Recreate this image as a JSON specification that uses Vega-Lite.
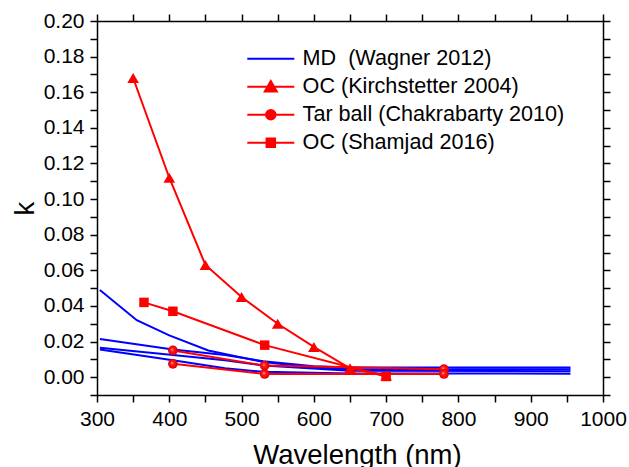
{
  "$schema": "https://vega.github.io/schema/vega-lite/v6.json",
  "width": 506,
  "height": 374,
  "autosize": {"type": "none"},
  "padding": {"left": 97, "top": 21, "right": 26, "bottom": 72},
  "background": "white",
  "config": {
    "view": {"stroke": null},
    "font": "Liberation Sans",
    "axis": {
      "grid": false, "domainColor": "#000", "domainWidth": 1.5, "tickColor": "#000", "tickWidth": 1.5,
      "labelColor": "#000", "labelFont": "Liberation Sans", "labelFontSize": 21,
      "titleFont": "Liberation Sans", "titleFontSize": 27.5, "titleFontWeight": "normal", "titleColor": "#000",
      "labelOverlap": false, "labelFlush": false, "labelBound": false, "tickSize": 7
    }
  },
  "data": {"values": [
    {"s": "MD\u00a0 (Wagner 2012)", "g": "md1", "w": 304, "k": 0.049},
    {"s": "MD\u00a0 (Wagner 2012)", "g": "md1", "w": 355, "k": 0.032},
    {"s": "MD\u00a0 (Wagner 2012)", "g": "md1", "w": 400, "k": 0.0235},
    {"s": "MD\u00a0 (Wagner 2012)", "g": "md1", "w": 454, "k": 0.015},
    {"s": "MD\u00a0 (Wagner 2012)", "g": "md1", "w": 530, "k": 0.0085},
    {"s": "MD\u00a0 (Wagner 2012)", "g": "md1", "w": 600, "k": 0.0055},
    {"s": "MD\u00a0 (Wagner 2012)", "g": "md1", "w": 650, "k": 0.0045},
    {"s": "MD\u00a0 (Wagner 2012)", "g": "md1", "w": 700, "k": 0.0042},
    {"s": "MD\u00a0 (Wagner 2012)", "g": "md1", "w": 800, "k": 0.0044},
    {"s": "MD\u00a0 (Wagner 2012)", "g": "md1", "w": 955, "k": 0.0045},
    {"s": "MD\u00a0 (Wagner 2012)", "g": "md2", "w": 304, "k": 0.0215},
    {"s": "MD\u00a0 (Wagner 2012)", "g": "md2", "w": 405, "k": 0.0155},
    {"s": "MD\u00a0 (Wagner 2012)", "g": "md2", "w": 477, "k": 0.0125},
    {"s": "MD\u00a0 (Wagner 2012)", "g": "md2", "w": 530, "k": 0.009},
    {"s": "MD\u00a0 (Wagner 2012)", "g": "md2", "w": 600, "k": 0.0062},
    {"s": "MD\u00a0 (Wagner 2012)", "g": "md2", "w": 650, "k": 0.0055},
    {"s": "MD\u00a0 (Wagner 2012)", "g": "md2", "w": 955, "k": 0.0054},
    {"s": "MD\u00a0 (Wagner 2012)", "g": "md3", "w": 304, "k": 0.0165},
    {"s": "MD\u00a0 (Wagner 2012)", "g": "md3", "w": 405, "k": 0.0125},
    {"s": "MD\u00a0 (Wagner 2012)", "g": "md3", "w": 477, "k": 0.0095},
    {"s": "MD\u00a0 (Wagner 2012)", "g": "md3", "w": 530, "k": 0.0065},
    {"s": "MD\u00a0 (Wagner 2012)", "g": "md3", "w": 650, "k": 0.0036},
    {"s": "MD\u00a0 (Wagner 2012)", "g": "md3", "w": 955, "k": 0.0034},
    {"s": "MD\u00a0 (Wagner 2012)", "g": "md4", "w": 304, "k": 0.0155},
    {"s": "MD\u00a0 (Wagner 2012)", "g": "md4", "w": 405, "k": 0.0095},
    {"s": "MD\u00a0 (Wagner 2012)", "g": "md4", "w": 477, "k": 0.005},
    {"s": "MD\u00a0 (Wagner 2012)", "g": "md4", "w": 530, "k": 0.003},
    {"s": "MD\u00a0 (Wagner 2012)", "g": "md4", "w": 650, "k": 0.0021},
    {"s": "MD\u00a0 (Wagner 2012)", "g": "md4", "w": 955, "k": 0.002},
    {"s": "OC (Kirchstetter 2004)", "g": "kir", "w": 350, "k": 0.168},
    {"s": "OC (Kirchstetter 2004)", "g": "kir", "w": 400, "k": 0.112},
    {"s": "OC (Kirchstetter 2004)", "g": "kir", "w": 450, "k": 0.063},
    {"s": "OC (Kirchstetter 2004)", "g": "kir", "w": 500, "k": 0.045},
    {"s": "OC (Kirchstetter 2004)", "g": "kir", "w": 550, "k": 0.030},
    {"s": "OC (Kirchstetter 2004)", "g": "kir", "w": 600, "k": 0.017},
    {"s": "OC (Kirchstetter 2004)", "g": "kir", "w": 650, "k": 0.005},
    {"s": "OC (Kirchstetter 2004)", "g": "kir", "w": 700, "k": 0.001},
    {"s": "Tar ball (Chakrabarty 2010)", "g": "tb1", "w": 405, "k": 0.015},
    {"s": "Tar ball (Chakrabarty 2010)", "g": "tb1", "w": 532, "k": 0.0065},
    {"s": "Tar ball (Chakrabarty 2010)", "g": "tb1", "w": 780, "k": 0.0045},
    {"s": "Tar ball (Chakrabarty 2010)", "g": "tb2", "w": 405, "k": 0.0075},
    {"s": "Tar ball (Chakrabarty 2010)", "g": "tb2", "w": 532, "k": 0.0018},
    {"s": "Tar ball (Chakrabarty 2010)", "g": "tb2", "w": 780, "k": 0.0018},
    {"s": "OC (Shamjad 2016)", "g": "sha", "w": 365, "k": 0.042},
    {"s": "OC (Shamjad 2016)", "g": "sha", "w": 405, "k": 0.037},
    {"s": "OC (Shamjad 2016)", "g": "sha", "w": 532, "k": 0.018},
    {"s": "OC (Shamjad 2016)", "g": "sha", "w": 700, "k": 0.0004}
  ]},
  "layer": [
    {
      "mark": {"type": "line", "strokeWidth": 2},
      "encoding": {
        "x": {"field": "w", "type": "quantitative", "scale": {"domain": [300, 1000], "nice": false, "zero": false},
          "axis": {"orient": "bottom", "title": "Wavelength (nm)", "titlePadding": 12, "labelPadding": 6, "titleX": 260,
            "values": [300, 350, 400, 450, 500, 550, 600, 650, 700, 750, 800, 850, 900, 950, 1000],
            "labelExpr": "datum.value % 100 === 0 ? '' + datum.value : ''",
            "encode": {"ticks": {"update": {"y2": {"signal": "datum.value % 100 === 0 ? 7 : 4"}}}}}},
        "y": {"field": "k", "type": "quantitative", "scale": {"domain": [-0.01, 0.2], "nice": false, "zero": false},
          "axis": {"orient": "left", "title": "k", "titlePadding": 4, "labelPadding": 6,
            "values": [-0.01, 0, 0.01, 0.02, 0.03, 0.04, 0.05, 0.06, 0.07, 0.08, 0.09, 0.1, 0.11, 0.12, 0.13, 0.14, 0.15, 0.16, 0.17, 0.18, 0.19, 0.2],
            "labelExpr": "round(datum.value * 100) % 2 === 0 ? format(datum.value, '.2f') : ''",
            "encode": {"ticks": {"update": {"x2": {"signal": "round(datum.value * 100) % 2 === 0 ? -7 : -4"}}}}}},
        "color": {"field": "s", "type": "nominal",
          "scale": {"domain": ["MD\u00a0 (Wagner 2012)", "OC (Kirchstetter 2004)", "Tar ball (Chakrabarty 2010)", "OC (Shamjad 2016)"],
                    "range": ["#0000ff", "#ff0000", "#ff0000", "#ff0000"]},
          "legend": {"orient": "none", "legendX": 163, "legendY": 27, "title": null, "padding": 0,
            "symbolSize": 100, "symbolStrokeWidth": 2, "labelFontSize": 21.6, "labelFont": "Liberation Sans", "labelColor": "#000",
            "labelOffset": 21, "rowPadding": 5, "labelLimit": 400,
            "encode": {"symbols": {"update": {
              "shape": {"signal": "datum.value === 'OC (Kirchstetter 2004)' ? 'M-4.7,0H4.7M0,-1.15L1.2,0.95L-1.2,0.95Z' : datum.value === 'Tar ball (Chakrabarty 2010)' ? 'M-4.7,0H4.7M0.95,0A0.95,0.95,0,1,1,-0.95,0A0.95,0.95,0,1,1,0.95,0Z' : datum.value === 'OC (Shamjad 2016)' ? 'M-4.7,0H4.7M-0.85,-0.85H0.85V0.85H-0.85Z' : 'M-4.7,0H4.7'"},
              "fill": {"signal": "datum.value === 'OC (Kirchstetter 2004)' || datum.value === 'Tar ball (Chakrabarty 2010)' || datum.value === 'OC (Shamjad 2016)' ? '#ff0000' : 'transparent'"},
              "stroke": {"signal": "datum.value === 'OC (Kirchstetter 2004)' || datum.value === 'Tar ball (Chakrabarty 2010)' || datum.value === 'OC (Shamjad 2016)' ? '#ff0000' : '#0000ff'"},
              "strokeWidth": {"value": 2},
              "opacity": {"value": 1}
            }}}}},
        "detail": {"field": "g"}
      }
    },
    {
      "transform": [{"filter": {"field": "g", "oneOf": ["kir", "sha"]}}],
      "mark": {"type": "point", "filled": true, "opacity": 1, "color": "#ff0000"},
      "encoding": {
        "x": {"field": "w", "type": "quantitative",
          "axis": {"orient": "top", "title": null, "labels": false,
            "values": [300, 350, 400, 450, 500, 550, 600, 650, 700, 750, 800, 850, 900, 950, 1000],
            "encode": {"ticks": {"update": {"y2": {"signal": "datum.value % 100 === 0 ? -7 : -4"}}}}}},
        "y": {"field": "k", "type": "quantitative",
          "axis": {"orient": "right", "title": null, "labels": false,
            "values": [-0.01, 0, 0.01, 0.02, 0.03, 0.04, 0.05, 0.06, 0.07, 0.08, 0.09, 0.1, 0.11, 0.12, 0.13, 0.14, 0.15, 0.16, 0.17, 0.18, 0.19, 0.2],
            "encode": {"ticks": {"update": {"x2": {"signal": "round(datum.value * 100) % 2 === 0 ? 7 : 4"}}}}}},
        "shape": {"field": "s", "type": "nominal",
          "scale": {"domain": ["OC (Kirchstetter 2004)", "Tar ball (Chakrabarty 2010)", "OC (Shamjad 2016)"],
                    "range": ["triangle-up", "circle", "square"]}, "legend": null},
        "size": {"field": "s", "type": "nominal",
          "scale": {"domain": ["OC (Kirchstetter 2004)", "Tar ball (Chakrabarty 2010)", "OC (Shamjad 2016)"],
                    "range": [135, 90, 72]}, "legend": null}
      }
    },
    {
      "transform": [{"filter": {"field": "g", "oneOf": ["tb1", "tb2"]}}],
      "mark": {"type": "point", "shape": "circle", "size": 95, "opacity": 1, "filled": true,
        "fill": {"gradient": "radial", "x1": 0.4, "y1": 0.4, "r1": 0, "x2": 0.5, "y2": 0.5, "r2": 0.5,
          "stops": [{"offset": 0, "color": "#ffd0d0"}, {"offset": 0.3, "color": "#ff2020"}, {"offset": 0.85, "color": "#f00000"}, {"offset": 1, "color": "#d00000"}]},
        "stroke": null},
      "encoding": {
        "x": {"field": "w", "type": "quantitative", "axis": null},
        "y": {"field": "k", "type": "quantitative", "axis": null}
      }
    }
  ],
  "resolve": {"axis": {"x": "independent", "y": "independent"}}
}
